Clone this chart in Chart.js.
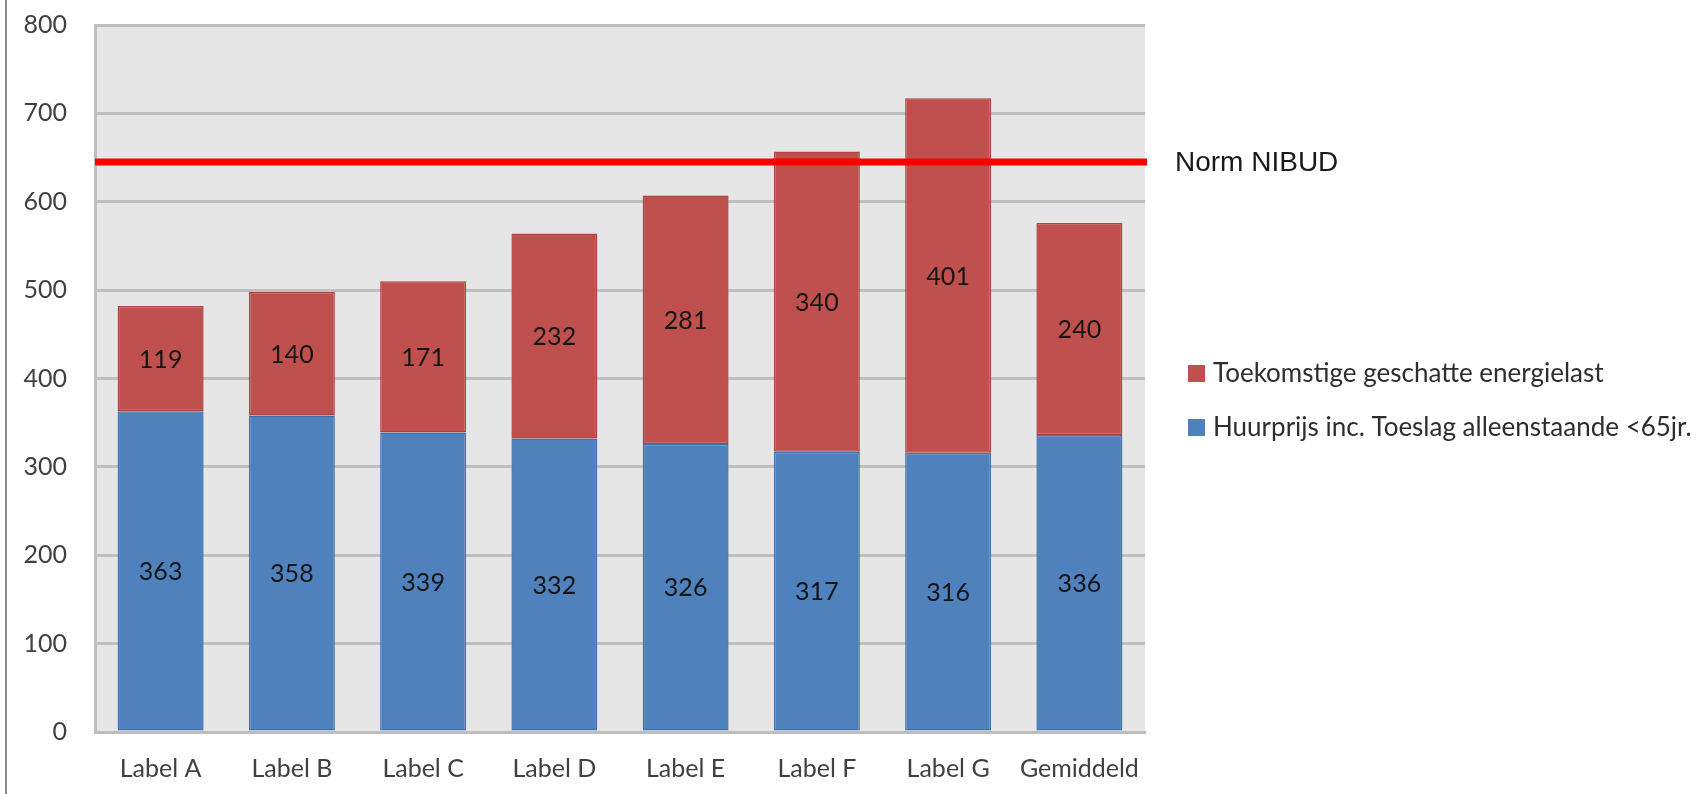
<!DOCTYPE html>
<html>
<head>
<meta charset="utf-8">
<script src="https://cdn.jsdelivr.net/npm/chart.js@4.4.1/dist/chart.umd.min.js"></script>
<style>
  html, body { margin: 0; padding: 0; background: #ffffff; }
  #wrap { width: 1705px; height: 794px; position: relative; }
</style>
</head>
<body>
<div id="wrap"><canvas id="c" width="1705" height="794"></canvas></div>
<script>
// ---- data ----
const categories = ['Label A', 'Label B', 'Label C', 'Label D', 'Label E', 'Label F', 'Label G', 'Gemiddeld'];
const huurprijs = [363, 358, 339, 332, 326, 317, 316, 336];
const energielast = [119, 140, 171, 232, 281, 340, 401, 240];
const seriesNames = ['Huurprijs inc. Toeslag alleenstaande <65jr.', 'Toekomstige geschatte energielast'];
const yMin = 0, yMax = 800, yStep = 100;
const normNibud = 645;
const normLabel = 'Norm NIBUD';

// ---- styling ----
const BLUE = '#4f81bd', BLUE_B = '#4272ad';
const RED = '#c0504d', RED_B = '#ad4441';
const FONT = 'Lato';

const plotBg = {
  id: 'plotBg',
  beforeDraw(chart) {
    const { ctx, chartArea: a } = chart;
    ctx.save();
    ctx.fillStyle = '#e6e6e6';
    ctx.fillRect(a.left, a.top, a.right - a.left, a.bottom - a.top);
    // outer frame line at left
    ctx.fillStyle = '#8c8c8c';
    ctx.fillRect(5, 0, 2, chart.height);
    ctx.restore();
  }
};

const overlay = {
  id: 'overlay',
  afterDatasetsDraw(chart) {
    const { ctx, chartArea: a, scales } = chart;
    ctx.save();
    // value labels centered in each segment
    ctx.font = '25px ' + FONT;
    ctx.fillStyle = '#151515';
    ctx.textAlign = 'center';
    ctx.textBaseline = 'middle';
    chart.data.datasets.forEach((ds, di) => {
      const meta = chart.getDatasetMeta(di);
      meta.data.forEach((bar, i) => {
        const yc = (bar.y + bar.base) / 2;
        ctx.fillText(String(ds.data[i]), bar.x, yc + 1);
      });
    });
    // NIBUD norm line
    const ny = scales.y.getPixelForValue(normNibud);
    ctx.strokeStyle = '#ff0000';
    ctx.lineWidth = 7;
    ctx.beginPath();
    ctx.moveTo(a.left, ny);
    ctx.lineTo(a.right + 2, ny);
    ctx.stroke();
    ctx.font = '28px "Liberation Sans"';
    ctx.fillStyle = '#1a1a1a';
    ctx.textAlign = 'left';
    ctx.textBaseline = 'middle';
    ctx.fillText(normLabel, a.right + 30, ny + 1);
    // legend (series in reverse order, as stacked)
    const items = [
      { color: RED, text: seriesNames[1], y: 373 },
      { color: BLUE, text: seriesNames[0], y: 427 }
    ];
    ctx.font = '26px ' + FONT;
    items.forEach(it => {
      ctx.fillStyle = it.color;
      ctx.fillRect(a.right + 43, it.y - 8, 17, 17);
      ctx.fillStyle = '#2e2e2e';
      ctx.fillText(it.text, a.right + 68, it.y + 1);
    });
    ctx.restore();
  }
};

new Chart(document.getElementById('c'), {
  type: 'bar',
  data: {
    labels: categories,
    datasets: [
      { label: seriesNames[0], data: huurprijs, backgroundColor: BLUE, borderColor: BLUE_B, borderWidth: 1.5, borderSkipped: false },
      { label: seriesNames[1], data: energielast, backgroundColor: RED, borderColor: RED_B, borderWidth: 1.5, borderSkipped: false }
    ]
  },
  options: {
    responsive: false,
    animation: false,
    devicePixelRatio: 1,
    layout: { padding: { left: 0, right: 560, top: 25, bottom: 0 } },
    plugins: { legend: { display: false }, tooltip: { enabled: false } },
    datasets: { bar: { categoryPercentage: 1.0, barPercentage: 0.655 } },
    scales: {
      x: {
        stacked: true,
        grid: { display: false, drawTicks: false },
        border: { display: true, color: '#bdbdbd', width: 3 },
        ticks: { font: { family: FONT, size: 25 }, color: '#404040', padding: 22, maxRotation: 0 },
        afterFit(s) { s.height = 62; s.paddingLeft = 0; s.paddingRight = 0; }
      },
      y: {
        stacked: true,
        min: yMin, max: yMax,
        grid: { color: '#bfbfbf', lineWidth: 3, drawTicks: false },
        border: { display: true, color: '#bfbfbf', width: 3 },
        ticks: { stepSize: yStep, font: { family: FONT, size: 25 }, color: '#404040', padding: 28 },
        afterFit(s) { s.width = 95; s.paddingTop = 0; s.paddingBottom = 0; }
      }
    }
  },
  plugins: [plotBg, overlay]
});
</script>
</body>
</html>
